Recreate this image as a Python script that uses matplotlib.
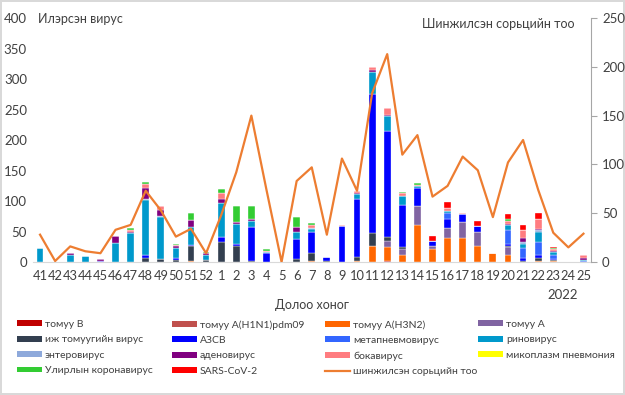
import numpy as np
import matplotlib
matplotlib.use("Agg")
import matplotlib.pyplot as plt
from matplotlib.patches import Patch
from matplotlib.lines import Line2D

plt.rcParams['font.family'] = ['Lato', 'DejaVu Sans']

weeks = ['41', '42', '43', '44', '45', '46', '47', '48', '49', '50', '51', '52',
         '1', '2', '3', '4', '5', '6', '7', '8', '9', '10', '11', '12', '13',
         '14', '15', '16', '17', '18', '19', '20', '21', '22', '23', '24', '25']

# detected viruses per week (stacked, bottom to top)
flu_b = [0, 0, 0, 0, 0, 0, 0, 0, 0, 0, 0, 0, 0, 0, 0, 0, 0, 0, 0, 0, 0, 0, 0, 2, 0,
         0, 0, 0, 0, 0, 0, 0, 0, 0, 0, 0, 0]
flu_h1n1 = [0, 0, 0, 0, 0, 0, 0, 0, 0, 0, 0, 0, 0, 0, 0, 0, 0, 0, 0, 0, 0, 0, 0, 0, 0,
            0, 0, 0, 0, 0, 0, 0, 0, 0, 0, 0, 0]
flu_h3n2 = [0, 0, 0, 0, 0, 0, 0, 0, 0, 0, 1, 0, 0, 0, 0, 0, 0, 0, 1, 0, 0, 2, 27, 22, 11,
            60, 22, 40, 40, 26, 15, 12, 0, 1, 2, 0, 0]
flu_a = [0, 0, 0, 0, 0, 0, 0, 0, 0, 0, 0, 0, 0, 0, 0, 0, 0, 0, 0, 0, 0, 0, 0, 10, 10,
         32, 4, 16, 26, 23, 0, 12, 0, 0, 0, 0, 0]
parainfluenza = [0, 0, 0, 0, 0, 0, 0, 7, 5, 3, 25, 3, 33, 27, 2, 0, 0, 5, 13, 1, 0, 6, 21, 7, 3,
                 0, 0, 0, 0, 0, 0, 3, 2, 5, 1, 0, 0]
rsv = [0, 0, 0, 0, 2, 0, 0, 5, 0, 3, 2, 0, 8, 3, 55, 14, 0, 32, 35, 8, 59, 95, 227, 174, 69,
       30, 8, 15, 12, 10, 0, 3, 4, 5, 2, 0, 0]
metapneumo = [0, 0, 0, 0, 0, 0, 0, 0, 0, 0, 0, 0, 0, 0, 0, 0, 0, 0, 0, 0, 0, 0, 0, 0, 0,
              0, 0, 10, 0, 0, 0, 22, 17, 22, 7, 0, 1]
rhino = [23, 0, 12, 10, 0, 31, 48, 89, 68, 17, 29, 8, 55, 32, 11, 2, 0, 12, 5, 0, 0, 8, 37, 24, 16,
         3, 0, 3, 0, 0, 0, 8, 7, 16, 4, 0, 3]
entero = [0, 0, 0, 0, 0, 0, 0, 2, 3, 0, 1, 0, 0, 0, 0, 0, 0, 0, 2, 0, 0, 0, 0, 0, 0,
          0, 0, 0, 0, 0, 0, 0, 2, 3, 1, 0, 0]
adeno = [0, 0, 2, 0, 3, 12, 2, 19, 10, 3, 11, 3, 7, 3, 2, 0, 0, 8, 0, 0, 0, 2, 3, 2, 0,
         0, 0, 0, 0, 0, 0, 2, 8, 2, 1, 0, 3]
boca = [0, 0, 0, 0, 0, 0, 3, 6, 6, 2, 0, 1, 10, 0, 0, 2, 0, 0, 5, 0, 2, 4, 5, 12, 4,
        2, 0, 5, 2, 0, 0, 5, 12, 17, 3, 0, 4]
mycoplasma = [0, 0, 0, 0, 0, 0, 0, 0, 0, 0, 0, 0, 0, 0, 0, 0, 0, 0, 0, 0, 0, 0, 0, 0, 0,
              0, 0, 0, 0, 0, 0, 1, 0, 0, 0, 0, 0]
corona = [0, 0, 0, 0, 0, 0, 2, 3, 0, 2, 11, 1, 7, 26, 21, 3, 0, 17, 3, 0, 0, 0, 0, 0, 2,
          2, 0, 0, 0, 0, 0, 3, 1, 0, 2, 0, 0]
sars_cov2 = [0, 0, 0, 0, 0, 0, 0, 0, 0, 0, 0, 0, 0, 0, 0, 0, 0, 0, 0, 0, 0, 0, 0, 0, 0,
             0, 9, 10, 0, 9, 0, 7, 8, 9, 1, 0, 0]

# number of tested samples (right axis)
tested = [28, 1, 16, 11, 9, 33, 38, 73, 53, 26, 34, 9, 48, 92, 150, 74, 0, 83, 97, 28, 106, 73,
          173, 213, 110, 130, 67, 78, 108, 94, 46, 102, 125, 74, 30, 15, 29]

series = [
    ('томуу B', flu_b, '#C00000'),
    ('томуу A(H1N1)pdm09', flu_h1n1, '#C0504D'),
    ('томуу A(H3N2)', flu_h3n2, '#FF6600'),
    ('томуу A', flu_a, '#8064A2'),
    ('иж томуугийн вирус', parainfluenza, '#333F50'),
    ('АЗСВ', rsv, '#0000FF'),
    ('метапневмовирус', metapneumo, '#3366FF'),
    ('риновирус', rhino, '#0099CC'),
    ('энтеровирус', entero, '#8EA9DB'),
    ('аденовирус', adeno, '#800080'),
    ('бокавирус', boca, '#FF7C80'),
    ('микоплазм пневмония', mycoplasma, '#FFFF00'),
    ('Улирлын коронавирус', corona, '#33CC33'),
    ('SARS-CoV-2', sars_cov2, '#FF0000'),
]
line_label = 'шинжилсэн сорьцийн тоо'
line_color = '#ED7D31'
txt = '#404040'

fig = plt.figure(figsize=(6.25, 3.95), dpi=100)
fig.patch.set_edgecolor('#D9D9D9')
fig.patch.set_linewidth(1.5)
ax = fig.add_axes([0.052, 0.3367, 0.8936, 0.6177])

x = np.arange(len(weeks))
bottom = np.zeros(len(weeks))
for name, vals, col in series:
    vals = np.array(vals, dtype=float)
    ax.bar(x, vals, width=0.45, bottom=bottom, color=col, edgecolor='white', linewidth=0.25)
    bottom += vals

ax.set_xlim(-0.5, len(weeks) - 0.5)
ax.set_ylim(0, 400)
ax.set_yticks(np.arange(0, 401, 50))
ax.set_xticks(x)
ax.set_xticklabels(weeks)
ax.tick_params(axis='x', length=0, pad=6, labelsize=9.3, labelcolor=txt)
ax.tick_params(axis='y', length=0, pad=4, labelsize=9.5, labelcolor=txt)
for s in ['left', 'right', 'top']:
    ax.spines[s].set_visible(False)
ax.spines['bottom'].set_color('#D9D9D9')
ax.set_xlabel('Долоо хоног', fontsize=9, color=txt, labelpad=12)
ax.text(34.6, -0.135, '2022', transform=ax.get_xaxis_transform(), ha='center', va='center',
        fontsize=9.5, color=txt)
ax.text(0.01, 0.995, 'Илэрсэн вирус', transform=ax.transAxes, ha='left', va='center',
        fontsize=9, color=txt)

ax2 = ax.twinx()
ax2.plot(x, tested, color=line_color, linewidth=1.6)
ax2.set_ylim(0, 250)
ax2.set_yticks(np.arange(0, 251, 50))
ax2.tick_params(axis='y', length=4, color='#A6A6A6', pad=4, labelsize=9.5, labelcolor=txt)
for s in ['left', 'top', 'bottom']:
    ax2.spines[s].set_visible(False)
ax2.spines['right'].set_color('#A6A6A6')
ax2.text(0.97, 0.975, 'Шинжилсэн сорьцийн тоо', transform=ax2.transAxes, ha='right', va='center',
         fontsize=9, color=txt)

handles = [Patch(facecolor=col, edgecolor='none', label=name) for name, _, col in series]
handles.append(Line2D([], [], color=line_color, linewidth=1.6, label=line_label))
ncol = 4
col_x = [17, 172, 325, 478]
for c in range(ncol):
    hs = handles[c::ncol]
    fig.legend(handles=hs, loc='upper left', bbox_to_anchor=(col_x[c] / 625, 1 - 320 / 395),
               frameon=False, fontsize=7.5, handlelength=2.4, handleheight=0.45,
               handletextpad=0.3, labelspacing=0.62, borderpad=0, borderaxespad=0,
               labelcolor=txt)

fig.savefig('out.png', dpi=100)
